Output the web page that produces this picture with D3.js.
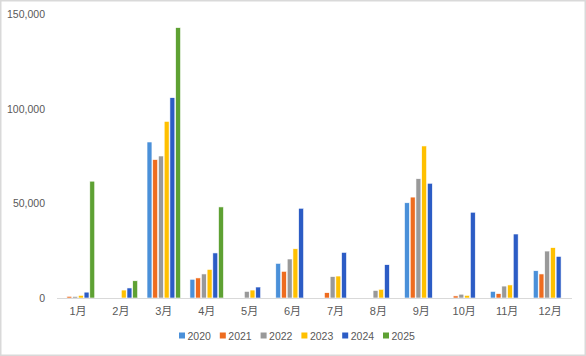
<!DOCTYPE html>
<html><head><meta charset="utf-8">
<script src="https://cdn.jsdelivr.net/npm/d3@7"></script>
<style>
html,body{margin:0;padding:0;background:#fff;}
svg{display:block;}
text{font-family:"Liberation Sans","Noto Sans CJK SC",sans-serif;fill:#595959;}
</style></head>
<body>
<svg id="chart" width="586" height="356"></svg>
<script>
const months = ["1月","2月","3月","4月","5月","6月","7月","8月","9月","10月","11月","12月"];
const years = ["2020","2021","2022","2023","2024","2025"];
const colors = ["#4a90d9","#ee6c1f","#999999","#ffc000","#2c5cc5","#5ea133"];
const v2020 = [0, 0, 82400, 9900, 0, 18300, 0, 0, 50300, 0, 3500, 14400];
const v2021 = [900, 0, 73100, 10600, 0, 14100, 2800, 0, 53300, 1100, 2300, 12700];
const v2022 = [800, 0, 75000, 12700, 3500, 20600, 11300, 4000, 63000, 2000, 6300, 24800];
const v2023 = [1400, 4200, 93300, 15100, 4200, 26000, 11600, 4600, 80300, 1400, 6900, 26600];
const v2024 = [3100, 5300, 105800, 23800, 5800, 47400, 24100, 17600, 60600, 45300, 33800, 22000];
const v2025 = [61700, 9100, 142800, 48100, 0, 0, 0, 0, 0, 0, 0, 0];
const yTicks = [0, 50000, 100000, 150000];

const series = [v2020, v2021, v2022, v2023, v2024, v2025];
const svg = d3.select("#chart");

// chart border
svg.append("rect").attr("x",0.75).attr("y",0.75).attr("width",584.5).attr("height",354.5)
  .attr("fill","#fff").attr("stroke","#d9d9d9").attr("stroke-width",1.5);

const x0 = d3.scaleBand().domain(months).range([56.5, 571.5]).paddingInner(0.2).paddingOuter(0.1);
const x1 = d3.scaleBand().domain(years).range([0, x0.bandwidth()]);
const y = d3.scaleLinear().domain([0, 150000]).range([298, 14]);

// y axis labels
const yAxis = d3.axisLeft(y).tickValues(yTicks).tickSize(0).tickPadding(0)
  .tickFormat(d3.format(","));
const gy = svg.append("g").attr("transform","translate(45,0)").call(yAxis);
gy.select(".domain").remove();
gy.selectAll("text").attr("font-size","10.5px").style("font-family",'"Liberation Sans",sans-serif').attr("fill","#595959");

// bars
const groups = svg.append("g").selectAll("g").data(months).join("g")
  .attr("transform", d => `translate(${x0(d)},0)`);
groups.selectAll("rect").data((m,i) => years.map((yr,j) => ({yr, j, v: series[j][i]})).filter(d => d.v > 0))
  .join("rect")
  .attr("x", d => x1(d.yr) + 0.4)
  .attr("width", x1.bandwidth() - 0.8)
  .attr("y", d => y(d.v))
  .attr("height", d => y(0) - y(d.v))
  .attr("fill", d => colors[d.j])
  .attr("stroke", "#fff").attr("stroke-width", 0.6);

// x axis
const xAxis = d3.axisBottom(x0).tickSize(0).tickPadding(9);
const gx = svg.append("g").attr("transform","translate(0,298)").call(xAxis);
gx.select(".domain").attr("stroke","#d9d9d9").attr("stroke-width",1);
gx.selectAll("text").attr("font-size","11px").attr("fill","#595959");

// legend
const leg = svg.append("g").attr("transform","translate(179,336)");
const li = leg.selectAll("g").data(years).join("g").attr("transform",(d,i)=>`translate(${i*40.8},0)`);
li.append("rect").attr("x",0).attr("y",-3.5).attr("width",6).attr("height",6).attr("fill",(d,i)=>colors[i]);
li.append("text").attr("x",8.5).attr("y",0).attr("dy","0.35em").attr("font-size","10.5px").text(d=>d);
</script>
</body></html>
